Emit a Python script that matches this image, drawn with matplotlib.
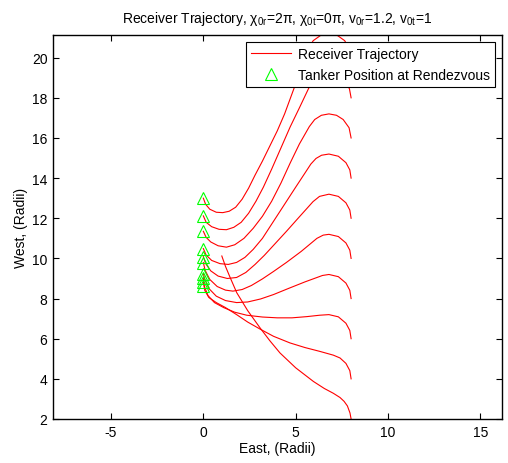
import matplotlib
matplotlib.use("Agg")
import matplotlib.pyplot as plt

plt.rcParams['font.family'] = ['Liberation Sans', 'DejaVu Sans']
plt.rcParams['mathtext.fontset'] = 'custom'
plt.rcParams['mathtext.rm'] = 'Liberation Sans'
plt.rcParams['mathtext.it'] = 'Liberation Sans'
plt.rcParams['axes.unicode_minus'] = False

# Tanker positions at rendezvous (x, y)
tanker_x = [0, 0, 0, 0, 0, 0, 0, 0, 0, 0]
tanker_y = [13.0, 12.12, 11.35, 10.49, 10.09, 9.79, 9.24, 9.04, 8.82, 8.62]

# Receiver trajectories
trajA_x = [0, 0.12, 0.35, 0.7, 1.05, 1.4, 1.75, 2.1, 2.45, 2.8, 3.2, 3.6, 4.0, 4.4, 4.8, 5.2, 5.5, 5.69, 5.95, 6.35, 6.8, 7.27, 7.65, 7.91, 8.0]
trajA_y = [13.0, 12.7, 12.45, 12.3, 12.28, 12.35, 12.55, 12.95, 13.5, 14.15, 14.85, 15.6, 16.35, 17.2, 18.2, 19.2, 19.95, 20.47, 20.85, 21.11, 21.2, 21.1, 20.85, 20.45, 20.0]

trajB_x = [0, 0.15, 0.45, 0.85, 1.25, 1.65, 2.05, 2.45, 2.85, 3.25, 3.7, 4.2, 4.7, 5.2, 5.70, 5.95, 6.35, 6.8, 7.27, 7.65, 7.91, 8.0]
trajB_y = [12.12, 11.8, 11.58, 11.45, 11.43, 11.55, 11.8, 12.25, 12.85, 13.55, 14.45, 15.5, 16.55, 17.5, 18.47, 18.85, 19.11, 19.2, 19.1, 18.85, 18.45, 18.0]

trajC_x = [0, 0.15, 0.4, 0.8, 1.25, 1.7, 2.2, 2.7, 3.2, 3.7, 4.2, 4.7, 5.2, 5.74, 6.03, 6.39, 6.8, 7.21, 7.57, 7.89, 8.0]
trajC_y = [11.35, 11.05, 10.82, 10.63, 10.56, 10.68, 11.0, 11.5, 12.1, 12.85, 13.75, 14.75, 15.7, 16.57, 16.92, 17.13, 17.2, 17.13, 16.92, 16.51, 16.0]

trajD_x = [0, 0.15, 0.45, 0.9, 1.35, 1.8, 2.25, 2.7, 3.2, 3.8, 4.4, 5.0, 5.5, 5.82, 6.1, 6.4, 6.8, 7.31, 7.72, 7.93, 8.0]
trajD_y = [10.49, 10.17, 9.9, 9.74, 9.7, 9.8, 10.05, 10.45, 11.0, 11.85, 12.7, 13.55, 14.25, 14.7, 14.98, 15.14, 15.2, 15.09, 14.77, 14.41, 14.0]

trajE_x = [0, 0.12, 0.4, 0.8, 1.3, 1.8, 2.3, 2.8, 3.3, 3.9, 4.5, 5.1, 5.94, 6.29, 6.8, 7.31, 7.72, 7.93, 8.0]
trajE_y = [10.09, 9.75, 9.38, 9.12, 9.0, 9.05, 9.3, 9.7, 10.15, 10.75, 11.35, 11.97, 12.83, 13.09, 13.2, 13.09, 12.77, 12.41, 12.0]

trajF_x = [0, 0.1, 0.35, 0.75, 1.2, 1.6, 2.1, 2.6, 3.2, 3.8, 4.5, 5.3, 6.15, 6.49, 6.8, 7.31, 7.72, 7.93, 8.0]
trajF_y = [9.79, 9.4, 8.95, 8.6, 8.42, 8.37, 8.45, 8.65, 8.98, 9.35, 9.8, 10.35, 11.0, 11.16, 11.2, 11.09, 10.77, 10.41, 10.0]

trajG_x = [0, 0.08, 0.3, 0.7, 1.2, 1.8, 2.4, 3.1, 3.8, 4.6, 5.5, 6.45, 6.8, 7.31, 7.72, 7.93, 8.0]
trajG_y = [9.24, 8.95, 8.5, 8.12, 7.9, 7.8, 7.83, 7.98, 8.2, 8.5, 8.83, 9.15, 9.2, 9.09, 8.77, 8.41, 8.0]

trajH_x = [0, 0.06, 0.25, 0.6, 1.1, 1.7, 2.35, 3.2, 4.0, 4.8, 5.6, 6.3, 6.8, 7.31, 7.72, 7.93, 8.0]
trajH_y = [9.04, 8.6, 8.15, 7.8, 7.55, 7.32, 7.17, 7.08, 7.04, 7.04, 7.1, 7.17, 7.2, 7.09, 6.77, 6.41, 6.0]

trajI_x = [0, 0.08, 0.3, 0.7, 1.2, 1.8, 2.4, 3.07, 3.8, 4.69, 5.5, 6.3, 7.04, 7.4, 7.72, 7.93, 8.0]
trajI_y = [8.82, 8.4, 8.05, 7.8, 7.55, 7.2, 6.83, 6.48, 6.12, 5.79, 5.56, 5.37, 5.18, 5.04, 4.77, 4.41, 4.0]

trajJ_x = [1.0, 1.2, 1.45, 1.81, 2.4, 3.07, 3.6, 4.15, 5.0, 5.96, 6.55, 7.04, 7.4, 7.62, 7.8, 7.94, 8.0]
trajJ_y = [10.12, 9.6, 9.05, 8.29, 7.4, 6.54, 5.9, 5.29, 4.55, 3.87, 3.52, 3.28, 3.07, 2.88, 2.65, 2.3, 2.0]

trajectories = [
    (trajA_x, trajA_y), (trajB_x, trajB_y), (trajC_x, trajC_y), (trajD_x, trajD_y),
    (trajE_x, trajE_y), (trajF_x, trajF_y), (trajG_x, trajG_y), (trajH_x, trajH_y),
    (trajI_x, trajI_y), (trajJ_x, trajJ_y),
]

x_ticks = [-5, 0, 5, 10, 15]
y_ticks = [2, 4, 6, 8, 10, 12, 14, 16, 18, 20]

fig = plt.figure(figsize=(5.08, 4.64), dpi=100)
ax = fig.add_axes([53/508, 44/464, 449/508, 384/464])

for i, (xs, ys) in enumerate(trajectories):
    ax.plot(xs, ys, color=(1, 0, 0), lw=0.8,
            label='Receiver Trajectory' if i == 0 else None)

ax.plot(tanker_x, tanker_y, linestyle='none', marker='^', markersize=8,
        markerfacecolor='none', markeredgecolor=(0, 1, 0), markeredgewidth=0.8,
        label='Tanker Position at Rendezvous')

ax.set_xlim(-8.14, 16.17)
ax.set_ylim(2.0, 21.13)
ax.set_xticks(x_ticks)
ax.set_yticks(y_ticks)
ax.tick_params(direction='in', top=True, right=True, length=4.5, width=0.8,
               labelsize=10, colors='black', pad=4)
for s in ax.spines.values():
    s.set_linewidth(1.0)
    s.set_color('black')

ax.set_xlabel('East, (Radii)', fontsize=10, labelpad=2)
ax.set_ylabel('West, (Radii)', fontsize=10, labelpad=3)
ax.set_title(r'Receiver Trajectory, $\chi_{0r}$=2$\pi$, $\chi_{0t}$=0$\pi$, v$_{0r}$=1.2, v$_{0t}$=1',
             fontsize=10, pad=9)

leg = ax.legend(loc='upper right', fontsize=10, fancybox=False, framealpha=1,
                edgecolor='black', borderaxespad=0.5, handlelength=2.9,
                borderpad=0.35, labelspacing=0.5, handletextpad=0.5)
leg.get_frame().set_linewidth(0.8)

fig.savefig('out.png', dpi=100)
